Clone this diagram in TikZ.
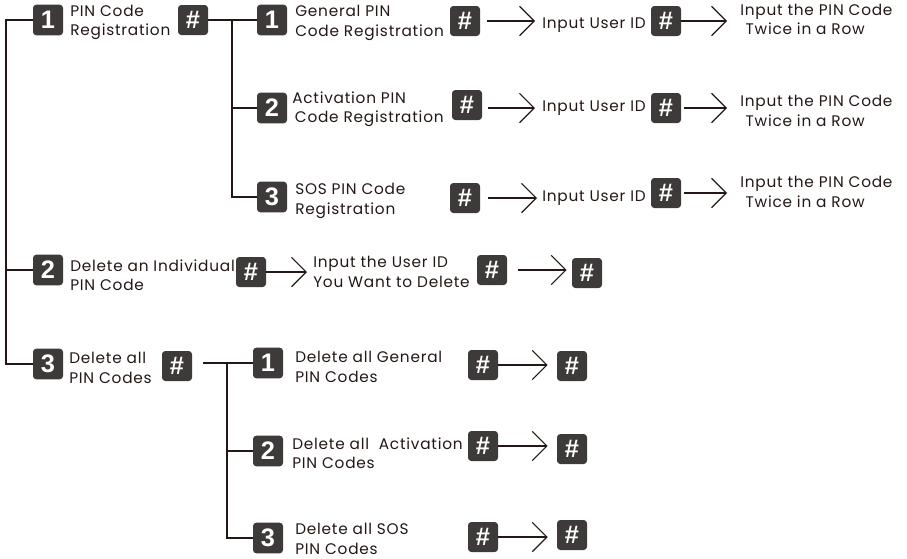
\documentclass[tikz,border=0pt]{standalone}
\usepackage{fontspec}
\setmainfont{Poppins}[LetterSpace=5]
\newfontfamily\numfont{Liberation Sans}
\usetikzlibrary{arrows.meta}
\definecolor{boxgray}{HTML}{3E3A39}
\definecolor{ink}{HTML}{231815}
\begin{document}
\begin{tikzpicture}[x=0.75pt,y=-0.75pt,
  conn/.style={draw=ink, line width=0.9pt},
  arr/.style={conn, -{Straight Barb[length=11pt,width=22pt,line width=0.9pt]}},
  numbox/.style={fill=boxgray, rounded corners=2.5pt, minimum width=22.5pt, minimum height=23pt, inner sep=0pt, text=white, font=\numfont\bfseries\fontsize{19}{19}\selectfont},
  hashbox/.style={numbox, minimum height=22.5pt, font=\numfont\bfseries\fontsize{19}{19}\selectfont},
  lbl/.style={anchor=west, align=left, inner sep=0pt, text=ink, font=\fontsize{11.5}{14.5}\selectfont},
]
\useasboundingbox (0,0) rectangle (907,558);

% level 1
\node[numbox] (m1) at (48,20) {1};
\node[lbl] (m1t) at (70,22.5) {PIN Code\\Registration};
\node[hashbox] (m1h) at (193,20) {\#};
\node[numbox] (m2) at (48,270) {2};
\node[lbl] (m2t) at (70,275) {Delete an Individual\\PIN Code};
\node[hashbox] (m2h) at (251,272) {\#};
\node[numbox] (m3) at (48,364) {3};
\node[lbl] (m3t) at (69,368) {Delete all\\PIN Codes};
\node[hashbox] (m3h) at (177,366) {\#};

% registration branch
\node[numbox] (s1) at (272,20) {1};
\node[lbl] (s1t) at (295,23) {General PIN\\Code Registration};
\node[hashbox] (s1h) at (465,21) {\#};
\node[lbl] (s1u) at (542,25) {Input User ID};
\node[hashbox] (s1h2) at (666,21) {\#};
\node[lbl] (s1p) at (740,19.5) {Input the PIN Code\\\hspace{4pt}Twice in a Row};

\node[numbox] (s2) at (272,108) {2};
\node[lbl] (s2t) at (292,109) {Activation PIN\\\hspace{2pt}Code Registration};
\node[hashbox] (s2h) at (467,105) {\#};
\node[lbl] (s2u) at (542,108.5) {Input User ID};
\node[hashbox] (s2h2) at (666,108) {\#};
\node[lbl] (s2p) at (740,111) {Input the PIN Code\\\hspace{4pt}Twice in a Row};

\node[numbox] (s3) at (272,197) {3};
\node[lbl] (s3t) at (295,201) {SOS PIN Code\\Registration};
\node[hashbox] (s3h) at (465,198) {\#};
\node[lbl] (s3u) at (542,198.5) {Input User ID};
\node[hashbox] (s3h2) at (666,193) {\#};
\node[lbl] (s3p) at (740,192) {Input the PIN Code\\\hspace{4pt}Twice in a Row};

% delete individual
\node[lbl] (d2t) at (313,272) {Input the User ID\\You Want to Delete};
\node[hashbox] (d2h) at (492,270) {\#};
\node[hashbox] (d2h2) at (587,273) {\#};

% delete all branch
\node[numbox] (e1) at (268,363) {1};
\node[lbl] (e1t) at (295,367) {Delete all General\\PIN Codes};
\node[hashbox] (e1h) at (483,365) {\#};
\node[hashbox] (e1h2) at (572,366) {\#};
\node[numbox] (e2) at (268,451) {2};
\node[lbl] (e2t) at (292,453.5) {Delete all\ \ Activation\\PIN Codes};
\node[hashbox] (e2h) at (483,446) {\#};
\node[hashbox] (e2h2) at (572,449) {\#};
\node[numbox] (e3) at (268,538) {3};
\node[lbl] (e3t) at (295,539) {Delete all SOS\\PIN Codes};
\node[hashbox] (e3h) at (483,537) {\#};
\node[hashbox] (e3h2) at (572,535) {\#};

% trunk
\coordinate (ta) at (6,20);
\draw[conn] (m1.west) -- (ta) |- (m3.west);
\draw[conn] (m2.west) -- (m2.west -| ta);
% registration fork
\coordinate (va) at (232,20);
\draw[conn] (m1h.east) -- (s1.west);
\draw[conn] (va) |- (s3.west);
\draw[conn] (s2.west) -- (s2.west -| va);
% delete-all fork
\coordinate (vb) at (227,363);
\draw[conn, shorten <=8.25pt] (m3h.east |- e1.west) -- (e1.west);
\draw[conn] (vb) |- (e3.west);
\draw[conn] (e2.west) -- (e2.west -| vb);

% arrows registration
\draw[arr, shorten <=5.25pt, shorten >=5.25pt] (s1h.east) -- (s1h.east -| s1u.west);
\draw[arr, shorten >=9.75pt] (s1h2.east) -- (s1h2.east -| s1p.west);
\draw[arr, shorten <=4.5pt, shorten >=5.25pt] ([yshift=-2.25pt]s2h.east) -- ([yshift=-2.25pt]s2h.east -| s2u.west);
\draw[arr, shorten <=2.25pt, shorten >=9.75pt] (s2h2.east) -- (s2h2.east -| s2p.west);
\draw[arr, shorten <=6pt, shorten >=3.75pt] (s3h.east) -- (s3h.east -| s3u.west);
\draw[arr, shorten <=2.25pt, shorten >=9.75pt] (s3h2.east) -- (s3h2.east -| s3p.west);

% arrows delete individual
\draw[arr, shorten >=4.5pt] (m2h.east) -- (m2h.east -| d2t.west);
\draw[arr, shorten <=8.25pt, shorten >=3.75pt] (d2h.east) -- (d2h.east -| d2h2.west);

% arrows delete all
\draw[arr, shorten >=6.75pt] (e1h.east) -- (e1h.east -| e1h2.west);
\draw[arr, shorten >=6.75pt] (e2h.east) -- (e2h.east -| e2h2.west);
\draw[arr, shorten >=6.75pt] (e3h.east) -- (e3h.east -| e3h2.west);
\end{tikzpicture}
\end{document}
